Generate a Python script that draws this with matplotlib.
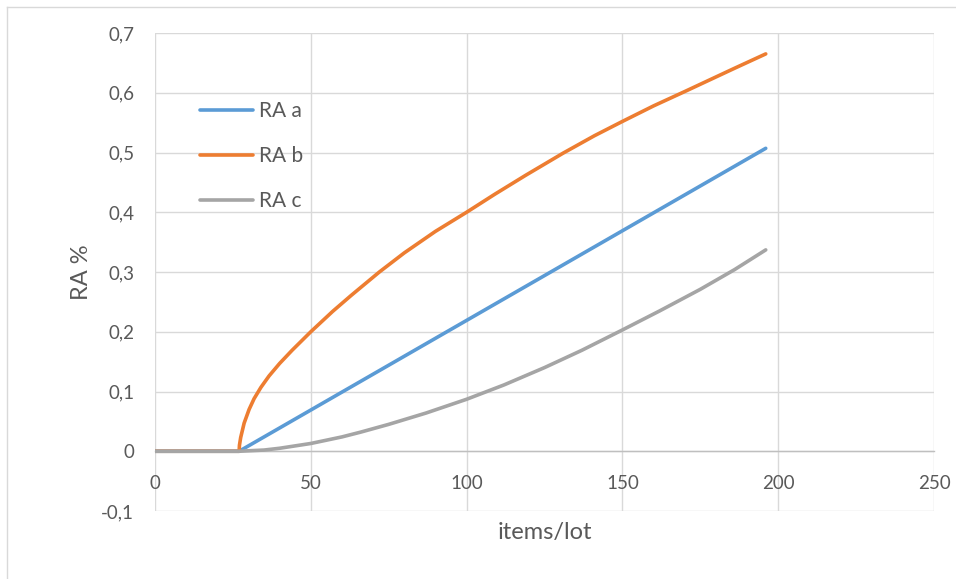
import matplotlib
matplotlib.use("Agg")
import matplotlib.pyplot as plt
from matplotlib.lines import Line2D

plt.rcParams['font.family'] = ['Lato', 'DejaVu Sans']

# ---- data ----
x_a = [0, 27, 196]
y_a = [0, 0, 0.507]

x_b = [0, 27, 27.1, 27.5, 28.6, 30.2, 31.8, 34, 36.6, 40, 44, 50, 57, 63, 72, 80, 90, 100,
       109, 119, 131, 141, 150, 160, 170, 186, 196]
y_b = [0, 0, 0.01, 0.023, 0.047, 0.070, 0.088, 0.107, 0.126, 0.147, 0.169, 0.2, 0.234, 0.261,
       0.3, 0.332, 0.368, 0.4, 0.43, 0.462, 0.499, 0.528, 0.552, 0.578, 0.602, 0.641, 0.665]

x_c = [0, 27, 31, 35, 40, 50, 60, 66, 75, 87, 100, 112, 125, 137, 150, 162, 175, 186, 196]
y_c = [0, 0, 0.001, 0.002, 0.005, 0.013, 0.024, 0.032, 0.045, 0.064, 0.087, 0.111, 0.14,
       0.169, 0.203, 0.235, 0.271, 0.304, 0.337]

series_names = ["RA a", "RA b", "RA c"]
series_colors = ["#5B9BD5", "#ED7D31", "#A5A5A5"]
x_ticks = [0, 50, 100, 150, 200, 250]
y_ticks = [-0.1, 0, 0.1, 0.2, 0.3, 0.4, 0.5, 0.6, 0.7]
y_tick_labels = ["-0,1", "0", "0,1", "0,2", "0,3", "0,4", "0,5", "0,6", "0,7"]

W, H = 956, 579
fig = plt.figure(figsize=(W / 100, H / 100), dpi=100)
ax = fig.add_axes([155 / W, 1 - 511 / H, (934 - 155) / W, (511 - 33) / H])

txt = "#595959"
grid_c = "#d9d9d9"

for xs, ys, c, n in zip([x_a, x_b, x_c], [y_a, y_b, y_c], series_colors, series_names):
    ax.plot(xs, ys, color=c, lw=2.6, solid_capstyle='round', solid_joinstyle='round', label=n, zorder=3)

ax.set_xlim(0, 250)
ax.set_ylim(-0.1, 0.7)
ax.set_xticks(x_ticks)
ax.set_xticklabels([str(v) for v in x_ticks])
ax.set_yticks(y_ticks)
ax.set_yticklabels(y_tick_labels)
ax.grid(True, color=grid_c, lw=1.0, zorder=0)
ax.set_axisbelow(True)

for s in ['top', 'right', 'left']:
    ax.spines[s].set_visible(False)
ax.spines['bottom'].set_position(('data', 0))
ax.spines['bottom'].set_color("#bfbfbf")
ax.spines['bottom'].set_linewidth(1.0)
ax.spines['bottom'].set_zorder(1)

ax.tick_params(axis='both', length=0, labelsize=13.5, labelcolor=txt)
ax.tick_params(axis='x', pad=17)
ax.tick_params(axis='y', pad=15)

ax.set_xlabel("items/lot", fontsize=17, color=txt, va='center')
ax.xaxis.set_label_coords(0.5, -0.046)
ax.set_ylabel("RA %", fontsize=17, color=txt, va='center')
ax.yaxis.set_label_coords(-0.094, 0.5)

leg = ax.legend(loc='upper left', bbox_to_anchor=(0.0578, 0.8575), frameon=False,
                fontsize=15, handlelength=2.55, handletextpad=0.3, labelspacing=1.2,
                borderpad=0, borderaxespad=0)
for t in leg.get_texts():
    t.set_color(txt)

# outer chart border (left and top visible in the reference)
fig.add_artist(Line2D([7 / W, 7 / W], [0, 1 - 7 / H], color="#d9d9d9", lw=1.0))
fig.add_artist(Line2D([7 / W, 1], [1 - 7 / H, 1 - 7 / H], color="#d9d9d9", lw=1.0))

fig.savefig("out.png", dpi=100)
